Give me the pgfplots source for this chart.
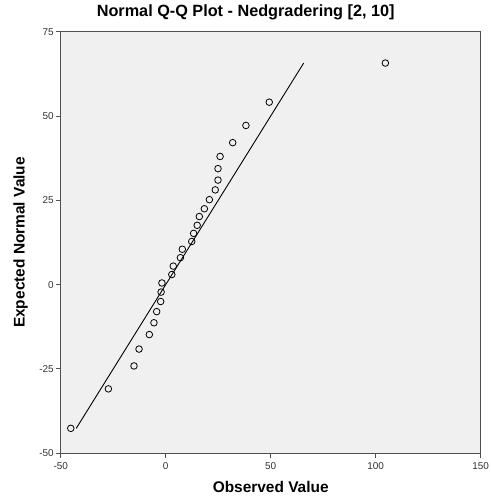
\documentclass[border=0pt]{standalone}
\usepackage{fontspec}
\setmainfont{Liberation Sans}
\usepackage{pgfplots}
\pgfplotsset{compat=1.18}
\definecolor{bgc}{HTML}{F0F0F0}
\definecolor{framec}{HTML}{505050}
\begin{document}
\begin{tikzpicture}[x=1bp,y=1bp]
\useasboundingbox (0,0) rectangle (491,499);
\begin{axis}[
  at={(60.7bp,45.7bp)}, anchor=south west,
  scale only axis, width=420bp, height=421.6bp,
  xmin=-50, xmax=150, ymin=-50, ymax=75,
  xtick={-50,0,50,100,150}, ytick={-50,-25,0,25,50,75},
  tick align=outside, tick pos=left,
  major tick length=5bp,
  axis line style={framec, line width=1.2bp},
  every tick/.style={framec, line width=1bp},
  axis background/.style={fill=bgc},
  /pgf/number format/assume math mode=true,
  ticklabel style={font=\fontsize{10}{11}\selectfont, text=black!80},
  xticklabel style={yshift=-1bp},
  yticklabel style={xshift=1.5bp},
  title={\bfseries Normal Q-Q Plot - Nedgradering [2, 10]},
  title style={font=\fontsize{16.3}{18}\selectfont, at={(0.5,1)}, anchor=base, yshift=9bp, xshift=-25bp},
  xlabel={\bfseries Observed Value},
  xlabel style={font=\fontsize{15.5}{17}\selectfont, at={(0.5,0)}, anchor=base, yshift=-39bp},
  ylabel={\bfseries Expected Normal Value},
  ylabel style={font=\fontsize{15.5}{17}\selectfont, at={(0,0.5)}, anchor=base, yshift=36bp},
]
\addplot[black, line width=0.9bp] coordinates {(-42.6,-42.6) (65.7,65.7)};
\addplot[only marks, mark=o, mark size=3.3bp, black, mark options={line width=0.8bp}] table {
x y
-45.2 -42.6
-27.3 -30.9
-15.1 -24.1
-12.7 -19.1
-7.8 -14.8
-5.6 -11.3
-4.3 -8.0
-2.4 -5.0
-2.2 -2.2
-1.8 0.5
2.9 3.0
3.6 5.5
7.0 8.0
7.9 10.5
12.4 12.8
13.3 15.2
15.0 17.6
16.0 20.2
18.4 22.5
20.8 25.2
23.6 28.1
24.9 31.0
24.9 34.4
25.9 38.0
31.9 42.1
38.2 47.2
49.3 54.1
104.6 65.7
};
\end{axis}
\end{tikzpicture}
\end{document}
